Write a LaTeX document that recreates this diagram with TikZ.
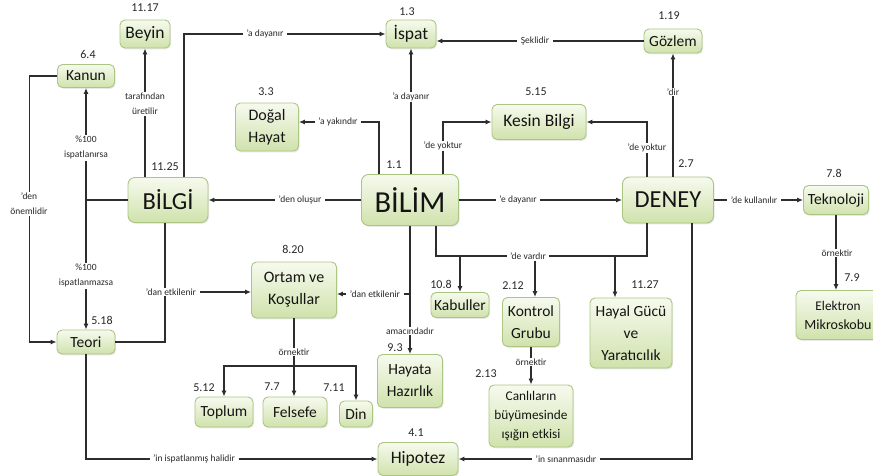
\documentclass[tikz,border=0pt]{standalone}
\usepackage{fontspec}
\setmainfont{Carlito}
\usetikzlibrary{arrows.meta,shadows}
\definecolor{boxborder}{RGB}{170,198,130}
\definecolor{boxtop}{RGB}{246,250,238}
\definecolor{boxbot}{RGB}{208,226,172}
\definecolor{linec}{RGB}{45,45,45}
\definecolor{lblc}{RGB}{40,40,40}
\definecolor{nodetext}{RGB}{20,20,20}
\begin{document}
\begin{tikzpicture}[x=1pt,y=-1pt,
  box/.style={draw=boxborder, line width=0.9pt, rounded corners=5pt,
    top color=boxtop, bottom color=boxbot, inner sep=0pt, align=center,
    text=nodetext,
    drop shadow={shadow xshift=1pt,shadow yshift=-1.3pt,opacity=0.18}},
  fbig/.style={font=\fontsize{30.5}{34}\selectfont},
  fbigb/.style={font=\fontsize{24.5}{28}\selectfont},
  fmed/.style={font=\fontsize{17.5}{21}\selectfont},
  fnorm/.style={font=\fontsize{15.5}{22}\selectfont},
  fnormb/.style={font=\fontsize{16}{22}\selectfont},
  fsmall/.style={font=\fontsize{13.3}{19}\selectfont},
  lbl/.style={font=\fontsize{9.5}{15}\selectfont, fill=white, inner xsep=3.5pt,
    inner ysep=1pt, text=lblc, align=center},
  num/.style={font=\fontsize{12}{14}\selectfont, text=lblc, inner sep=0pt},
  con/.style={draw=linec, line width=1.1pt},
  arr/.style={con, -{Latex[length=6pt,width=5pt]}}]
\fill[white] (0,0) rectangle (873,476);
\useasboundingbox (0,0) rectangle (873,476);

% nodes
\node[box, fbig, minimum width=97pt, minimum height=51pt, rounded corners=7pt] (bilim) at (410,200) {BİLİM};
\node[box, fbigb, minimum width=80pt, minimum height=45pt, rounded corners=7pt] (bilgi) at (168,200) {BİLGİ};
\node[box, fbigb, minimum width=91pt, minimum height=46pt, rounded corners=7pt] (deney) at (668,200) {DENEY};
\node[box, fmed, minimum width=50pt, minimum height=28pt] (ispat) at (411,34) {İspat};
\node[box, fmed, minimum width=50pt, minimum height=28pt] (beyin) at (145,34) {Beyin};
\node[box, fnorm, minimum width=57pt, minimum height=23pt] (kanun) at (86,76) {Kanun};
\node[box, fnorm, minimum width=58pt, minimum height=24pt] (gozlem) at (673,41) {Gözlem};
\node[box, fnormb, minimum width=63pt, minimum height=48pt] (dogal) at (267,127) {Doğal\\Hayat};
\node[box, fmed, minimum width=94pt, minimum height=35pt] (kesin) at (539,122) {Kesin Bilgi};
\node[box, fnorm, minimum width=65pt, minimum height=29pt] (tekno) at (836,200) {Teknoloji};
\node[box, fsmall, minimum width=84pt, minimum height=49pt] (elek) at (838,315) {Elektron\\{\fontsize{14}{19}\selectfont Mikroskobu}};
\node[box, fnormb, minimum width=85pt, minimum height=56pt] (ortam) at (294,290) {Ortam ve\\Koşullar};
\node[box, fnorm, minimum width=58pt, minimum height=24pt] (teori) at (86,342) {Teori};
\node[box, fnorm, minimum width=58pt, minimum height=25pt] (kabul) at (460,305) {Kabuller};
\node[box, fnorm, minimum width=57pt, minimum height=49pt] (kontrol) at (531,322) {Kontrol\\Grubu};
\node[box, fnorm, minimum width=82pt, minimum height=70pt] (hayal) at (631,333) {Hayal Gücü\\ve\\Yaratıcılık};
\node[box, fnorm, minimum width=65pt, minimum height=53pt] (hayata) at (410,381) {Hayata\\Hazırlık};
\node[box, fnorm, minimum width=58pt, minimum height=30pt] (toplum) at (224,412) {Toplum};
\node[box, fnorm, minimum width=64pt, minimum height=30pt] (felsefe) at (295,412) {Felsefe};
\node[box, fnorm, minimum width=33pt, minimum height=26pt] (din) at (356,414) {Din};
\node[box, fsmall, minimum width=84pt, minimum height=62pt] (canli) at (531,416) {Canlıların\\büyümesinde\\ışığın etkisi};
\node[box, fmed, minimum width=80pt, minimum height=33pt] (hipotez) at (418,459) {Hipotez};

% connectors
\draw[arr] ([xshift=16pt]bilgi.north) |- (ispat.west);
\draw[arr] ([xshift=-23pt]bilgi.north) -- (beyin.south);
\draw[arr] (bilgi.west) -| (kanun.south);
\draw[arr] (kanun.south |- bilgi.west) -- (teori.north);
\draw[arr] (kanun.west) -- ++(-28,0) |- (teori.west);
\draw[con] (teori.east) -| ([xshift=-3pt]bilgi.south);
\coordinate (ej) at (165,292);
\draw[arr] (ej) -- (ej -| ortam.west);
\draw[arr] (bilim.west) -- (bilgi.east);
\draw[arr] (ispat.south |- bilim.north) -- (ispat.south);
\draw[arr] ([xshift=-31pt]bilim.north) |- ([yshift=5pt]dogal.east);
\draw[arr] ([xshift=33pt]bilim.north) |- (kesin.west);
\draw[arr] ([xshift=-21pt]deney.north) |- (kesin.east);
\draw[arr] (gozlem.south |- deney.north) -- (gozlem.south);
\draw[arr] (gozlem.west) -- (gozlem.west -| ispat.east);
\draw[arr] (bilim.east) -- (deney.west);
\draw[arr] (deney.east) -- (tekno.west);
\draw[arr] (tekno.south) -- (tekno.south |- elek.north);

\coordinate (dl) at (436,256);
\coordinate (dr) at (647,256);
\draw[con] ([xshift=26pt]bilim.south) -- (dl) -- (dr) -- ([xshift=-21pt]deney.south);
\draw[arr] (dl -| kabul.north) -- (kabul.north);
\coordinate (hy) at ([xshift=-16pt]hayal.north);
\draw[arr] (dl -| hy) -- (hy);
\node[lbl] (dvl) at (528,256) {’de vardır};
\coordinate (ky) at ([xshift=4pt]kontrol.north);
\draw[arr] (dvl.south -| ky) -- (ky);

\draw[arr] (bilim.south) -- (hayata.north);
\coordinate (bj) at (410,294);
\draw[arr] (bj) -- (bj -| ortam.east);

\coordinate (oj) at (294,366);
\draw[con] (ortam.south) -- (oj);
\draw[arr] (oj) -| (toplum.north);
\draw[arr] (oj) -| (din.north);
\draw[arr] (oj) -- (oj |- felsefe.north);

\draw[arr] (kontrol.south) -- (canli.north);
\draw[arr] (teori.south) |- (hipotez.west);
\draw[arr] ([xshift=24pt]deney.south) |- (hipotez.east);

% connector labels
\node[lbl] at (265,34) {’a dayanır};
\node[lbl] at (145,104) {tarafından\\üretilir};
\node[lbl] at (86,148) {\%100\\ispatlanırsa};
\node[lbl] at (86,276) {\%100\\ispatlanmazsa};
\node[lbl] at (29,204) {’den\\önemlidir};
\node[lbl] at (171,292) {’dan etkilenir};
\node[lbl] at (300,200) {’den oluşur};
\node[lbl] at (411,97) {’a dayanır};
\node[lbl] at (338,122) {’a yakındır};
\node[lbl] at (443,146) {’de yoktur};
\node[lbl] at (647,148) {’de yoktur};
\node[lbl] at (673,92) {’dir};
\node[lbl] at (535,41) {Şeklidir};
\node[lbl] at (518,200) {’e dayanır};
\node[lbl] at (754,200) {’de kullanılır};
\node[lbl] at (837,253) {örnektir};
\node[lbl] at (410,331) {amacındadır};
\node[lbl] at (375,294) {’dan etkilenir};
\node[lbl] at (294,352) {örnektir};
\node[lbl] at (531,362) {örnektir};
\node[lbl] at (194,459) {’in ispatlanmış halidir};
\node[lbl] at (566,459) {’in sınanmasıdır};

% numbers
\node[num] (n1) at (145,8) {11.17};
\node[num] (n2) at (88,54) {6.4};
\node[num] (n3) at (407,12) {1.3};
\node[num] (n4) at (669,16) {1.19};
\node[num] (n5) at (266,92) {3.3};
\node[num] (n6) at (536,92) {5.15};
\node[num] (n7) at (165,167) {11.25};
\node[num] (n8) at (394,165) {1.1};
\node[num] (n9) at (686,164) {2.7};
\node[num] (n10) at (834,173) {7.8};
\node[num] (n11) at (852,278) {7.9};
\node[num] (n12) at (293,249) {8.20};
\node[num] (n13) at (102,320) {5.18};
\node[num] (n14) at (441,284) {10.8};
\node[num] (n15) at (513,286) {2.12};
\node[num] (n16) at (645,285) {11.27};
\node[num] (n17) at (395,348) {9.3};
\node[num] (n18) at (204,388) {5.12};
\node[num] (n19) at (272,387) {7.7};
\node[num] (n20) at (334,388) {7.11};
\node[num] (n21) at (486,374) {2.13};
\node[num] (n22) at (416,433) {4.1};
\end{tikzpicture}
\end{document}
